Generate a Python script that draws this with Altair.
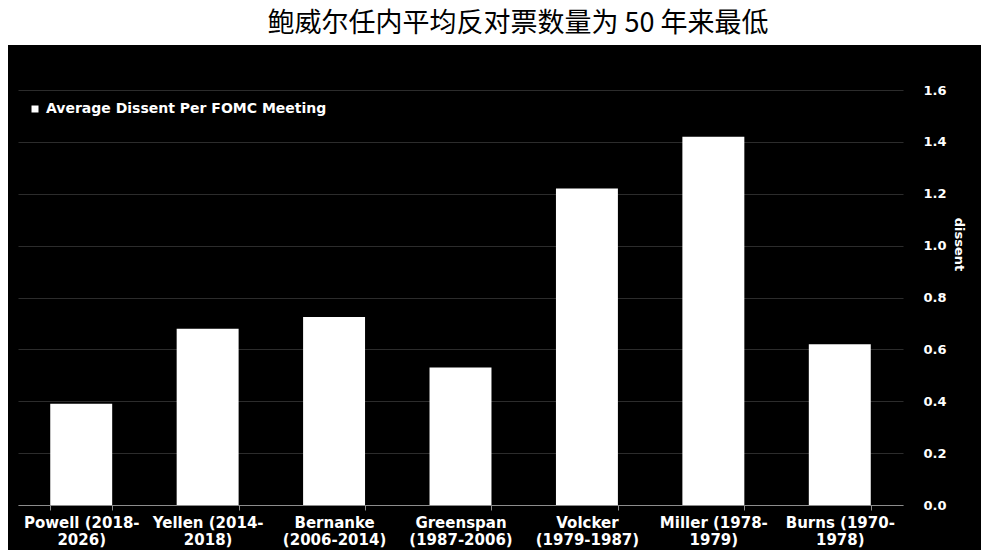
import altair as alt
import pandas as pd

title_text = "鲍威尔任内平均反对票数量为 50 年来最低"
chairs = [
    "Powell (2018-|2026)",
    "Yellen (2014-|2018)",
    "Bernanke|(2006-2014)",
    "Greenspan|(1987-2006)",
    "Volcker|(1979-1987)",
    "Miller (1978-|1979)",
    "Burns (1970-|1978)",
]
dissent = [0.39, 0.68, 0.725, 0.53, 1.22, 1.42, 0.62]
series_name = "Average Dissent Per FOMC Meeting"
y_ticks = [0.0, 0.2, 0.4, 0.6, 0.8, 1.0, 1.2, 1.4, 1.6]

df = pd.DataFrame({"chair": chairs, "dissent": dissent, "series": [series_name] * len(chairs)})
title_df = pd.DataFrame({"t": [title_text]})

W, H = 885, 415
FONT = "DejaVu Sans"

bg = alt.Chart(title_df).mark_rect(color="white", clip=False).encode(
    x=alt.value(-10), x2=alt.value(963), y=alt.value(-82), y2=alt.value(-45)
)

title_mark = alt.Chart(title_df).mark_text(
    font="Noto Sans CJK SC", fontSize=27, color="black", align="center", baseline="middle"
).encode(text="t:N", x=alt.value(500), y=alt.value(-66))

bars = alt.Chart(df).mark_bar().encode(
    x=alt.X(
        "chair:N",
        sort=None,
        scale=alt.Scale(paddingInner=0.51, paddingOuter=0.255),
        axis=alt.Axis(
            title=None,
            labelExpr="split(datum.label, '|')",
            labelAngle=0,
            labelFont=FONT,
            labelFontWeight="bold",
            labelFontSize=15,
            labelColor="white",
            labelLineHeight=17,
            labelPadding=5,
            labelBaseline="top",
            labelOverlap=False,
            domainColor="#8c8c8c",
            tickColor="#8c8c8c",
            tickSize=5,
            tickBand="extent",
            grid=False,
        ),
    ),
    y=alt.Y(
        "dissent:Q",
        scale=alt.Scale(domain=[0, 1.6], nice=False),
        axis=alt.Axis(
            orient="right",
            values=y_ticks,
            format=".1f",
            title="dissent",
            titleAngle=90,
            titleX=55,
            titleY=154,
            titleAlign="center",
            titleBaseline="middle",
            titleFont=FONT,
            titleFontWeight="bold",
            titleFontSize=13,
            titleColor="white",
            labelFont=FONT,
            labelFontWeight="bold",
            labelFontSize=13,
            labelColor="white",
            labelPadding=20,
            domain=False,
            ticks=False,
            grid=True,
            gridColor="#2c2c2c",
            gridWidth=1,
        ),
    ),
    fill=alt.Fill(
        "series:N",
        scale=alt.Scale(range=["white"]),
        legend=alt.Legend(
            title=None,
            orient="none",
            legendX=10,
            legendY=12,
            symbolType="square",
            symbolSize=49,
            symbolStrokeWidth=0,
            labelFont=FONT,
            labelFontWeight="bold",
            labelFontSize=14,
            labelColor="white",
            labelOffset=4,
            labelLimit=400,
            padding=0,
        ),
    ),
)

chart = alt.layer(bg, title_mark, bars).properties(
    width=W,
    height=H,
    background="black",
    padding={"left": 0, "top": 0, "right": 0, "bottom": 3},
).configure_view(stroke=None)

chart.save("out.html", embed_options={"renderer": "svg", "actions": False})
